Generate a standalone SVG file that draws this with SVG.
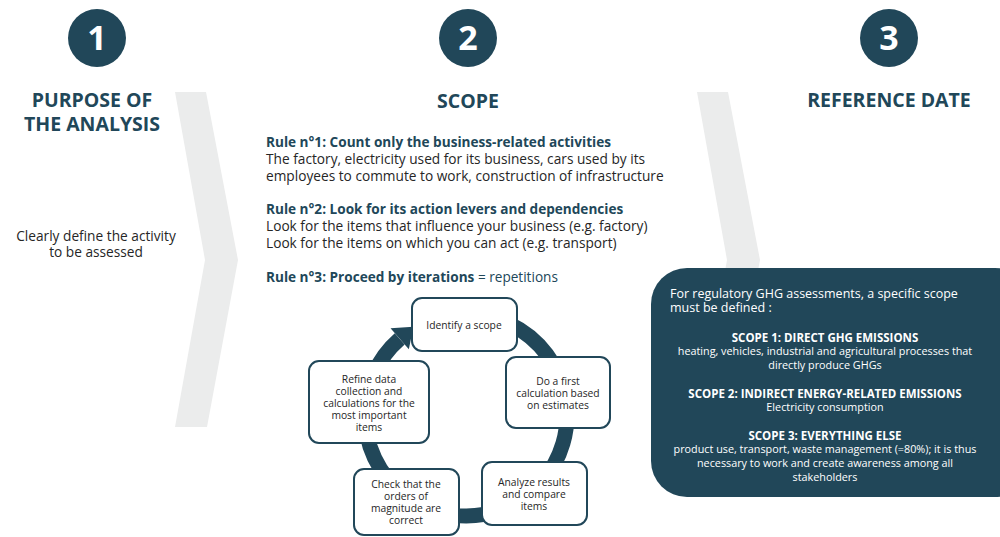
<svg xmlns="http://www.w3.org/2000/svg" width="1000" height="537" viewBox="0 0 1000 537">
<defs>
<style>
text{font-family:"Open Sans","Noto Sans","Liberation Sans",sans-serif}
.num{font-size:34px;font-weight:700;fill:#ffffff;text-anchor:middle}
.badge{fill:#214759}
.title{font-size:19.5px;font-weight:700;fill:#214759;text-anchor:middle}
.body{font-size:13.7px;fill:#262626}
.rule{font-size:13.6px;font-weight:700;fill:#214759}
.teal{fill:#214759;font-weight:400}
.chev{fill:#ebecec}
.panel{fill:#214759}
.pt{font-size:12.5px;fill:#ffffff}
.ph{font-size:11.5px;font-weight:700;fill:#ffffff;text-anchor:middle}
.pb{font-size:10.8px;fill:#ffffff;text-anchor:middle}
.node rect{fill:#ffffff;stroke:#214759;stroke-width:2}
.node text{font-size:10.3px;fill:#262626;text-anchor:middle}
.ring{fill:none;stroke:#214759;stroke-width:15}
</style>
<marker id="ah" markerUnits="userSpaceOnUse" markerWidth="30" markerHeight="30" refX="0" refY="0" viewBox="-2 -14 22 28" orient="auto">
<path d="M0,-13 L17,0 L0,13 Z" fill="#214759"/>
</marker>
</defs>
<rect width="1000" height="537" fill="#ffffff"/>

<g id="chevron-1"><polygon class="chev" points="175,92 206,92 238,260 207,427 175,427 205,260"/></g>
<g id="chevron-2"><polygon class="chev" points="697,92 728,92 760,260 729,427 697,427 727,260"/></g>

<g id="step-1">
<circle class="badge" cx="97" cy="38" r="29"/>
<text class="num" x="97" y="50">1</text>
<text class="title" x="92" y="107">PURPOSE OF</text>
<text class="title" x="92" y="131">THE ANALYSIS</text>
<text class="body" x="96" y="241" text-anchor="middle">Clearly define the activity</text>
<text class="body" x="96" y="257" text-anchor="middle">to be assessed</text>
</g>

<g id="step-2">
<circle class="badge" cx="468" cy="38" r="29"/>
<text class="num" x="468" y="50">2</text>
<text class="title" x="468" y="108">SCOPE</text>
<text class="rule" x="266" y="147">Rule n°1: Count only the business-related activities</text>
<text class="body" x="266" y="164">The factory, electricity used for its business, cars used by its</text>
<text class="body" x="266" y="181">employees to commute to work, construction of infrastructure</text>
<text class="rule" x="266" y="214">Rule n°2: Look for its action levers and dependencies</text>
<text class="body" x="266" y="231">Look for the items that influence your business (e.g. factory)</text>
<text class="body" x="266" y="248">Look for the items on which you can act (e.g. transport)</text>
<text class="rule" x="266" y="282">Rule n°3: Proceed by iterations <tspan class="teal">= repetitions</tspan></text>
</g>

<g id="step-3">
<circle class="badge" cx="889" cy="38" r="29"/>
<text class="num" x="889" y="50">3</text>
<text class="title" x="889" y="107">REFERENCE DATE</text>
</g>

<g id="connectors">
<path class="ring" d="M466,314 A101,101 0 1 1 399.7,338.8" marker-end="url(#ah)"/>
</g>

<g id="node-identify" class="node">
<rect x="412" y="298" width="105" height="53" rx="10"/>
<text x="464" y="329">Identify a scope</text>
</g>
<g id="node-first" class="node">
<rect x="506" y="357" width="104" height="71" rx="10"/>
<text x="558" y="384.5">Do a first</text>
<text x="558" y="396.5">calculation based</text>
<text x="558" y="408.5">on estimates</text>
</g>
<g id="node-analyze" class="node">
<rect x="482" y="462" width="105" height="63" rx="10"/>
<text x="534" y="485.5">Analyze results</text>
<text x="534" y="497.5">and compare</text>
<text x="534" y="509.5">items</text>
</g>
<g id="node-check" class="node">
<rect x="354" y="469" width="105" height="66" rx="10"/>
<text x="406" y="488">Check that the</text>
<text x="406" y="500">orders of</text>
<text x="406" y="512">magnitude are</text>
<text x="406" y="524">correct</text>
</g>
<g id="node-refine" class="node">
<rect x="309" y="361" width="120" height="82" rx="10"/>
<text x="369" y="382.5">Refine data</text>
<text x="369" y="394.5">collection and</text>
<text x="369" y="406.5">calculations for the</text>
<text x="369" y="418.5">most important</text>
<text x="369" y="430.5">items</text>
</g>

<g id="scope-panel">
<rect class="panel" x="651" y="268" width="380" height="229" rx="36"/>
<text class="pt" x="670" y="298">For regulatory GHG assessments, a specific scope</text>
<text class="pt" x="670" y="312">must be defined :</text>
<text class="ph" x="825" y="342">SCOPE 1: DIRECT GHG EMISSIONS</text>
<text class="pb" x="825" y="355">heating, vehicles, industrial and agricultural processes that</text>
<text class="pb" x="825" y="369">directly produce GHGs</text>
<text class="ph" x="825" y="397.5">SCOPE 2: INDIRECT ENERGY-RELATED EMISSIONS</text>
<text class="pb" x="825" y="411">Electricity consumption</text>
<text class="ph" x="825" y="439.5">SCOPE 3: EVERYTHING ELSE</text>
<text class="pb" x="825" y="453">product use, transport, waste management (=80%); it is thus</text>
<text class="pb" x="825" y="467">necessary to work and create awareness among all</text>
<text class="pb" x="825" y="481">stakeholders</text>
</g>
</svg>
